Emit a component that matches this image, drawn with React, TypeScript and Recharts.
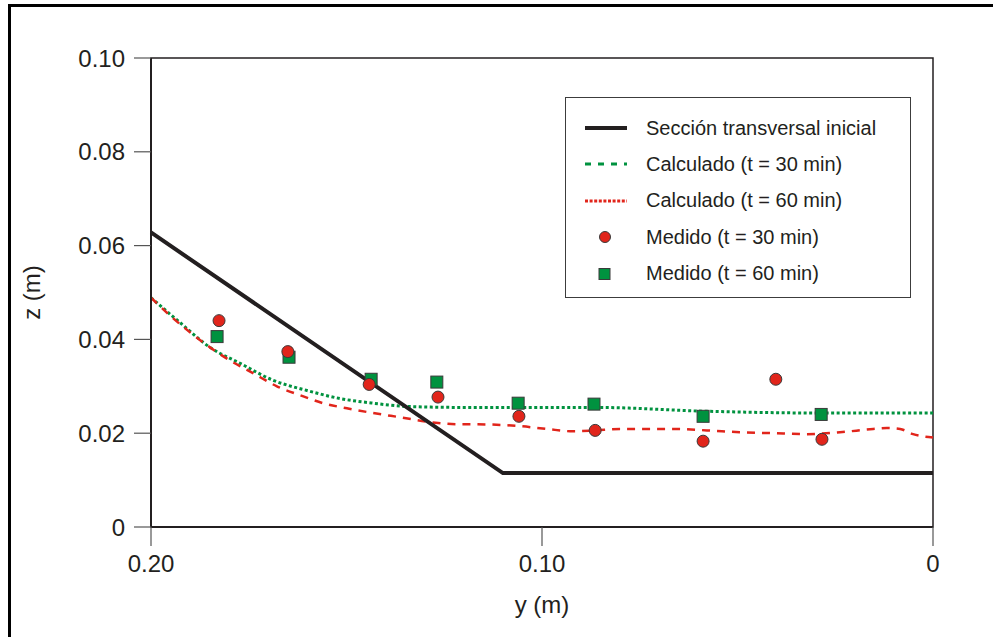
import { ComposedChart, Line, Scatter, XAxis, YAxis, Legend, ReferenceArea, Label } from 'recharts';

// initial cross section
const seccionY = [0.2, 0.11, 0];
const seccionZ = [0.0628, 0.0115, 0.0115];

// computed profile, t = 30 min
const calc30Y = [0.2, 0.1926, 0.1849, 0.1772, 0.1688, 0.1601, 0.1517, 0.1432, 0.1345, 0.121, 0.1056, 0.0864, 0.0588, 0.0281, 0];
const calc30Z = [0.0489, 0.0436, 0.0383, 0.0349, 0.0313, 0.0291, 0.0274, 0.0264, 0.0257, 0.0255, 0.0255, 0.0255, 0.0247, 0.0243, 0.0243];

// computed profile, t = 60 min
const calc60Y = [0.2, 0.1946, 0.19, 0.1849, 0.1798, 0.1739, 0.1678, 0.1619, 0.156, 0.1499, 0.1432, 0.1363, 0.1279, 0.121, 0.1176, 0.1056, 0.0987, 0.0921, 0.0864, 0.08, 0.0665, 0.0578, 0.0494, 0.0409, 0.0322, 0.0238, 0.0153, 0.0118, 0.0084, 0.0051, 0];
const calc60Z = [0.0489, 0.0447, 0.0415, 0.0383, 0.0355, 0.0328, 0.03, 0.0281, 0.0264, 0.0253, 0.0243, 0.0234, 0.0223, 0.0219, 0.0219, 0.0215, 0.0209, 0.0204, 0.0206, 0.0209, 0.0209, 0.0206, 0.0202, 0.02, 0.0198, 0.0202, 0.0209, 0.0211, 0.0209, 0.0198, 0.0191];

// measured, t = 30 min
const med30Y = [0.1826, 0.165, 0.1442, 0.1266, 0.1059, 0.0864, 0.0588, 0.0402, 0.0284];
const med30Z = [0.044, 0.0374, 0.0304, 0.0277, 0.0236, 0.0206, 0.0183, 0.0315, 0.0187];

// measured, t = 60 min
const med60Y = [0.1831, 0.1647, 0.1437, 0.1269, 0.1061, 0.0867, 0.0588, 0.0286];
const med60Z = [0.0406, 0.0362, 0.0315, 0.0309, 0.0264, 0.0262, 0.0236, 0.024];

const xTicks = [0.2, 0.1, 0];
const yTicks = [0, 0.02, 0.04, 0.06, 0.08, 0.1];

const zip = (ys: number[], zs: number[]) => ys.map((y, i) => ({ y, z: zs[i] }));

const INK = '#231f20';
const GREEN = '#00923f';
const RED = '#e1251b';
const fmt = (v: number, d: number) => (v === 0 ? '0' : v.toFixed(d));

const legendItems = [
  { name: 'Sección transversal inicial', kind: 'solid' },
  { name: 'Calculado (t = 30 min)', kind: 'dash' },
  { name: 'Calculado (t = 60 min)', kind: 'dot' },
  { name: 'Medido (t = 30 min)', kind: 'circle' },
  { name: 'Medido (t = 60 min)', kind: 'square' },
];

function Swatch({ kind }: { kind: string }) {
  return (
    <svg width={80} height={30} style={{ display: 'block' }}>
      {kind === 'solid' && <line x1={19} x2={61} y1={15} y2={15} stroke={INK} strokeWidth={4} />}
      {kind === 'dash' && <line x1={19} x2={61} y1={15} y2={15} stroke={GREEN} strokeWidth={3} strokeDasharray="6 7" />}
      {kind === 'dot' && <line x1={19} x2={61} y1={15} y2={15} stroke={RED} strokeWidth={3} strokeDasharray="3 1.6" />}
      {kind === 'circle' && <circle cx={39} cy={15} r={5.5} fill={RED} stroke="#3a3a3a" strokeWidth={1} />}
      {kind === 'square' && <rect x={33} y={9.5} width={11} height={11} fill={GREEN} stroke="#3a3a3a" strokeWidth={1} />}
    </svg>
  );
}

function LegendBox() {
  return (
    <div style={{ position: 'relative', width: 346, height: 201, boxSizing: 'border-box', border: '1.5px solid #3c3c3c', background: '#fff', fontSize: 20, color: INK }}>
      {legendItems.map((item, i) => (
        <div key={item.name} style={{ position: 'absolute', left: 0, top: 15 + i * 36.4, height: 30, display: 'flex', alignItems: 'center', whiteSpace: 'nowrap' }}>
          <Swatch kind={item.kind} />
          <span>{item.name}</span>
        </div>
      ))}
    </div>
  );
}

const circleShape = (p: any) => <circle cx={p.cx} cy={p.cy} r={6} fill={RED} stroke="#3a3a3a" strokeWidth={1} />;
const squareShape = (p: any) => <rect x={p.cx - 6} y={p.cy - 6} width={12} height={12} fill={GREEN} stroke="#3a3a3a" strokeWidth={1} />;

export default function App() {
  return (
    <div style={{ position: 'absolute', left: 0, top: 0, width: 993, height: 637, overflow: 'hidden', background: '#fff', fontFamily: '"Liberation Sans", Arial, sans-serif' }}>
      <div style={{ position: 'absolute', left: 8, top: 4, width: 1100, height: 800, borderLeft: '3px solid #000', borderTop: '3px solid #000' }} />
      <ComposedChart width={993} height={637} margin={{ top: 58, right: 60, bottom: 0, left: 0 }}>
        <XAxis
          dataKey="y"
          type="number"
          domain={[0, 0.2]}
          reversed
          ticks={xTicks}
          tickFormatter={(v) => fmt(v, 2)}
          height={110}
          tickSize={19}
          tickMargin={9}
          axisLine={{ stroke: INK, strokeWidth: 2 }}
          tickLine={{ stroke: '#555', strokeWidth: 1.2 }}
          tick={{ fill: INK, fontSize: 24 }}
        >
          <Label value="y (m)" position="insideBottom" offset={24} style={{ fill: INK, fontSize: 24 }} />
        </XAxis>
        <YAxis
          dataKey="z"
          type="number"
          domain={[0, 0.1]}
          ticks={yTicks}
          tickFormatter={(v) => fmt(v, 2)}
          width={151}
          tickSize={17}
          tickMargin={9}
          axisLine={{ stroke: INK, strokeWidth: 2 }}
          tickLine={{ stroke: '#555', strokeWidth: 1.2 }}
          tick={{ fill: INK, fontSize: 24 }}
        >
          <Label value="z (m)" angle={-90} position="insideLeft" offset={31} style={{ fill: INK, fontSize: 24, textAnchor: 'middle' }} />
        </YAxis>
        <ReferenceArea x1={0.2} x2={0} y1={0} y2={0.1} fill="none" stroke={INK} strokeWidth={1.5} />
        <Line data={zip(calc30Y, calc30Z)} dataKey="z" type="monotone" stroke={GREEN} strokeWidth={3} strokeDasharray="3 2.5" dot={false} isAnimationActive={false} />
        <Line data={zip(calc60Y, calc60Z)} dataKey="z" type="monotone" stroke={RED} strokeWidth={2.5} strokeDasharray="8 7" dot={false} isAnimationActive={false} />
        <Line data={zip(seccionY, seccionZ)} dataKey="z" type="linear" stroke={INK} strokeWidth={4} dot={false} isAnimationActive={false} />
        <Scatter data={zip(med60Y, med60Z)} dataKey="z" shape={squareShape} isAnimationActive={false} />
        <Scatter data={zip(med30Y, med30Z)} dataKey="z" shape={circleShape} isAnimationActive={false} />
        <Legend
          layout="horizontal"
          verticalAlign="middle"
          align="center"
          content={() => <LegendBox />}
          wrapperStyle={{ left: 565, top: 97, width: 346, height: 201 }}
        />
      </ComposedChart>
    </div>
  );
}
